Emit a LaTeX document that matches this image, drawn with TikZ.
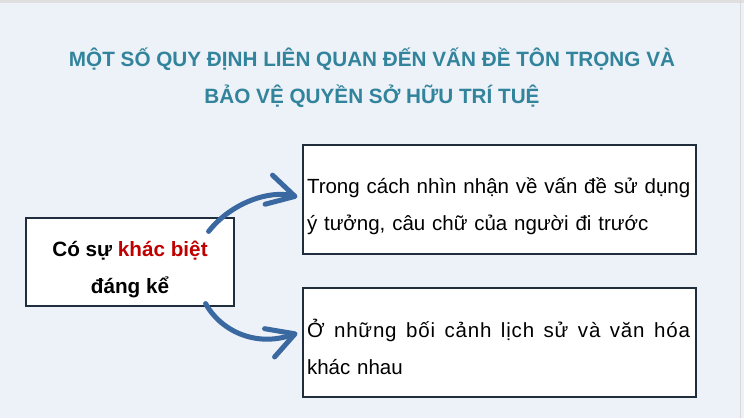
\documentclass[tikz,border=0pt]{standalone}
\usepackage{fontspec}
\setmainfont{Liberation Sans}
\usetikzlibrary{arrows.meta,calc}
\definecolor{bgblue}{RGB}{237,241,248}
\definecolor{titleteal}{RGB}{49,132,155}
\definecolor{arrowblue}{RGB}{58,104,160}
\definecolor{boxline}{RGB}{31,45,61}
\definecolor{keyred}{RGB}{192,0,0}
\begin{document}
\begin{tikzpicture}[x=1pt,y=-1pt,
	box/.style={draw=boxline,line width=1.2pt,fill=white,inner sep=4pt},
	curvearrow/.style={draw=arrowblue,line width=5pt,line cap=round,
		-{Straight Barb[length=27pt,width=30pt,round]}}]
	\useasboundingbox (0,0) rectangle (744,418);
	\fill[bgblue] (0,0) rectangle (744,418);
	\fill[gray!25] (0,0) rectangle (744,2.5);
	\draw[gray!30,line width=1pt] (740.5,0) -- (740.5,418);
	
	% title
	\node (title) at (372,78) [align=center,text=titleteal,font=\bfseries\fontsize{20.7}{37}\selectfont]
	{MỘT SỐ QUY ĐỊNH LIÊN QUAN ĐẾN VẤN ĐỀ TÔN TRỌNG VÀ\\BẢO VỆ QUYỀN SỞ HỮU TRÍ TUỆ};
	
	% boxes
	\node[box,minimum width=208pt,minimum height=88pt,align=center,font=\bfseries\fontsize{20.7}{37}\selectfont] (diff) at (130,262)
	{\rule{0pt}{30pt}Có sự \textcolor{keyred}{khác biệt}\\đáng kể};
	\node[box,minimum width=393pt,minimum height=109pt,text width=385pt,align=left,font=\fontsize{20.5}{37}\selectfont] (view) at (499.5,199.5)
	{\rule{0pt}{29pt}Trong cách nhìn nhận về vấn đề sử dụng\\ý tưởng, câu chữ của người đi trước};
	\node[box,minimum width=393pt,minimum height=109pt,text width=385pt,align=left,font=\fontsize{20.5}{37}\selectfont] (context) at (499.5,342.5)
	{\rule{0pt}{27pt}\hbox to 383pt{\addfontfeature{LetterSpace=4}Ở \hfil những \hfil bối \hfil cảnh \hfil lịch \hfil sử \hfil và \hfil văn \hfil hóa}\\khác nhau};
	
	% arrows
	\draw[curvearrow] ($(diff.north east)+(-26,14)$) .. controls (232,202) and (270,190) .. ($(view.west)+(-5,-2.5)$);
	\draw[curvearrow] ($(diff.south east)+(-29,-3)$) .. controls (220,330) and (255,348) .. ($(context.west)+(-5,-9.5)$);
\end{tikzpicture}
\end{document}
